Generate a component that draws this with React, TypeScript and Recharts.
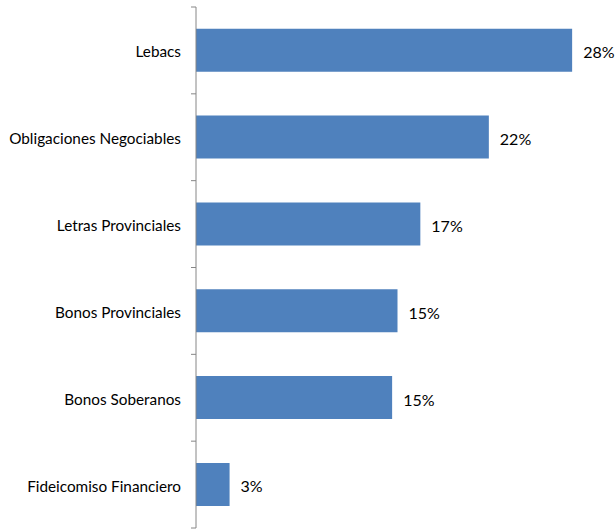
import React from "react"
import { BarChart, Bar, XAxis, YAxis, LabelList } from "recharts"

const categories = [
  "Lebacs",
  "Obligaciones Negociables",
  "Letras Provinciales",
  "Bonos Provinciales",
  "Bonos Soberanos",
  "Fideicomiso Financiero",
]
const shares = [28, 21.8, 16.7, 15.0, 14.6, 2.5]

const data = categories.map((name, i) => ({ name, value: shares[i] }))

const W = 615
const H = 529
const TOP = 7
const BOTTOM = 1
const AXIS_X = 196
const band = (H - TOP - BOTTOM) / categories.length
const axisColor = "#868686"
const font = "Lato, 'Open Sans', sans-serif"

// Excel style: tick marks sit between categories, not at their centres
function CategoryTick(props: any) {
  const { y, payload, index } = props
  const last = index === categories.length - 1
  return (
    <g>
      <line x1={AXIS_X - 5} x2={AXIS_X} y1={y - band / 2} y2={y - band / 2} stroke={axisColor} />
      {last && <line x1={AXIS_X - 5} x2={AXIS_X} y1={y + band / 2} y2={y + band / 2} stroke={axisColor} />}
      <text x={AXIS_X - 15} y={y} dy={7} textAnchor="end" fontSize={15.3} fill="#000" fontFamily={font}>
        {payload.value}
      </text>
    </g>
  )
}

// value label to the right of the bar end
function ValueLabel(props: any) {
  const { x, y, width, height, value } = props
  return (
    <text
      x={x + width + 11}
      y={y + height / 2}
      dy={8}
      textAnchor="start"
      fontSize={16}
      fill="#000"
      fontFamily={font}
    >
      {`${Math.round(Number(value))}%`}
    </text>
  )
}

export default function App() {
  return (
    <div style={{ position: "absolute", left: 0, top: 0, background: "#fff" }}>
      <BarChart
        width={W}
        height={H}
        data={data}
        layout="vertical"
        margin={{ top: TOP, right: 16, bottom: BOTTOM, left: 0 }}
        barCategoryGap="25%"
      >
        <XAxis type="number" domain={[0, 30]} hide />
        <YAxis
          type="category"
          dataKey="name"
          width={AXIS_X}
          axisLine={{ stroke: axisColor }}
          tickLine={false}
          tick={<CategoryTick />}
          interval={0}
        />
        <Bar dataKey="value" fill="#4F81BD" isAnimationActive={false}>
          <LabelList dataKey="value" content={<ValueLabel />} />
        </Bar>
      </BarChart>
    </div>
  )
}
